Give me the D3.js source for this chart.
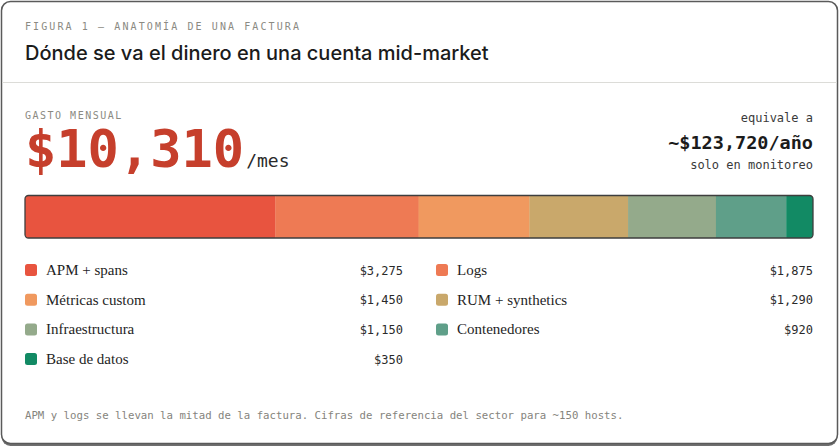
<!DOCTYPE html>
<html><head><meta charset="utf-8">
<script src="https://cdn.jsdelivr.net/npm/d3@7/dist/d3.min.js"></script>
<style>
html,body{margin:0;padding:0;background:#fff;}
svg{display:block;}
</style></head>
<body><svg id="c" width="840" height="448"></svg>
<script>
const categories = ["APM + spans","Logs","Métricas custom","RUM + synthetics","Infraestructura","Contenedores","Base de datos"];
const values = [3275,1875,1450,1290,1150,920,350];
const colors = ["#e8543f","#ee7a54","#f0995f","#c9a86b","#94aa8b","#5f9f89","#128a64"];
const valueLabels = ["$3,275","$1,875","$1,450","$1,290","$1,150","$920","$350"];
const kicker = "FIGURA 1 — ANATOMÍA DE UNA FACTURA";
const title = "Dónde se va el dinero en una cuenta mid-market";
const footnote = "APM y logs se llevan la mitad de la factura. Cifras de referencia del sector para ~150 hosts.";

const MONO = "'DejaVu Sans Mono', 'Liberation Mono', monospace";
const SANS = "Inter, 'Noto Sans', sans-serif";
const SERIF = "'Liberation Serif', 'DejaVu Serif', serif";

const svg = d3.select("#c");
const total = d3.sum(values);
const monthly = d3.format("$,")(total);
const yearly = "~" + d3.format("$,")(total*12) + "/año";

// card
svg.append("rect").attr("x",1.5).attr("y",4).attr("width",836).attr("height",442).attr("rx",9).attr("fill","#6f6f6f");
svg.append("rect").attr("x",1.5).attr("y",1.5).attr("width",836).attr("height",442).attr("rx",9)
  .attr("fill","#fff").attr("stroke","#5a5a5a").attr("stroke-width",1.5);
svg.append("line").attr("x1",2).attr("x2",837).attr("y1",82.5).attr("y2",82.5).attr("stroke","#dcdcd8").attr("stroke-width",1);

// header
svg.append("text").attr("x",25).attr("y",30).text(kicker)
  .style("font-family",MONO).style("font-size","10px").style("letter-spacing","2.1px").attr("fill","#8b8a82");
svg.append("text").attr("x",25).attr("y",60).text(title)
  .style("font-family",SANS).style("font-size","20px").style("font-weight",500).attr("fill","#1b1b1b");

// big number
svg.append("text").attr("x",25).attr("y",119).text("GASTO MENSUAL")
  .style("font-family",MONO).style("font-size","10px").style("letter-spacing","1.5px").attr("fill","#8b8a82");
const big = svg.append("text").attr("x",25).attr("y",167);
big.append("tspan").text(monthly).style("font-family",MONO).style("font-size","52px").style("font-weight",700).attr("fill","#c63f2c");
big.append("tspan").text("/mes").attr("dx",2).style("font-family",MONO).style("font-size","18px").attr("fill","#2a2a2a");

svg.append("text").attr("x",813).attr("y",122).attr("text-anchor","end").text("equivale a")
  .style("font-family",MONO).style("font-size","12px").attr("fill","#3a3a3a");
svg.append("text").attr("x",813).attr("y",149).attr("text-anchor","end").text(yearly)
  .style("font-family",MONO).style("font-size","18.5px").style("font-weight",700).attr("fill","#1b1b1b");
svg.append("text").attr("x",813).attr("y",169).attr("text-anchor","end").text("solo en monitoreo")
  .style("font-family",MONO).style("font-size","12px").attr("fill","#3a3a3a");

// stacked bar
const x = d3.scaleLinear().domain([0,total]).range([25,813]);
const cum = d3.cumsum(values);
const segs = values.map((v,i)=>({cat:categories[i],v,x0:cum[i]-v,x1:cum[i],c:colors[i]}));
const barY = 195.5, barH = 42.5;
svg.append("clipPath").attr("id","bc").append("rect").attr("x",x(0)).attr("y",barY).attr("width",x(total)-x(0)).attr("height",barH).attr("rx",3.5);
svg.append("g").attr("clip-path","url(#bc)").selectAll("rect").data(segs).join("rect")
  .attr("x",d=>x(d.x0)).attr("width",d=>x(d.x1)-x(d.x0)+0.3).attr("y",barY).attr("height",barH).attr("fill",d=>d.c);
svg.append("rect").attr("x",x(0)).attr("y",barY).attr("width",x(total)-x(0)).attr("height",barH).attr("rx",3.5)
  .attr("fill","none").attr("stroke","#3e3e3e").attr("stroke-width",1.3);

// legend (row-major, two columns)
const colX = [25,436], colEnd = [403,813];
const rowY = d3.scaleLinear().domain([0,1]).range([270,299.7]);
const lg = svg.append("g").selectAll("g").data(segs).join("g")
  .attr("transform",(d,i)=>`translate(${colX[i%2]},${rowY(Math.floor(i/2))})`);
lg.append("rect").attr("x",0).attr("y",-6).attr("width",12).attr("height",12).attr("rx",2.5).attr("fill",d=>d.c);
lg.append("text").attr("x",21).attr("y",5).text(d=>d.cat)
  .style("font-family",SERIF).style("font-size","15px").attr("fill","#1e1e1e");
lg.append("text").attr("x",(d,i)=>colEnd[i%2]-colX[i%2]).attr("y",4.5).attr("text-anchor","end").text((d,i)=>valueLabels[i])
  .style("font-family",MONO).style("font-size","12px").attr("fill","#2a2a2a");

// footnote
svg.append("text").attr("x",25).attr("y",419).text(footnote)
  .style("font-family",MONO).style("font-size","10.7px").attr("fill","#85847d");
</script></body></html>
